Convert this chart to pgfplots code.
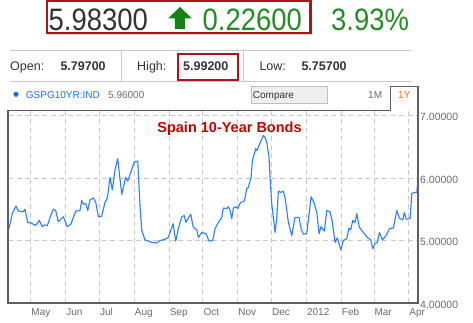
\documentclass[border=0pt]{standalone}
\usepackage{pgfplots}
\pgfplotsset{compat=1.18}
\usepackage{graphicx}
\usepackage{fontspec}
\setmainfont{Liberation Sans}
\usetikzlibrary{shadows}
\definecolor{lineblue}{RGB}{45,125,245}
\definecolor{gridgray}{RGB}{200,200,200}
\definecolor{framegray}{RGB}{95,95,95}
\definecolor{labgray}{RGB}{105,105,105}
\definecolor{titlered}{RGB}{192,0,0}
\definecolor{boxred}{RGB}{170,20,30}
\definecolor{txtgreen}{RGB}{35,140,35}
\definecolor{arrgreen}{RGB}{20,130,20}
\definecolor{darktxt}{RGB}{51,51,51}
\definecolor{tickblue}{RGB}{30,110,230}
\definecolor{tabor}{RGB}{255,100,30}
\begin{document}
\begin{tikzpicture}[x=1pt,y=1pt]
\path[use as bounding box] (0,0) rectangle (473,323);
% top price box
\draw[boxred, line width=2.2pt, fill=white, drop shadow={shadow xshift=1.5pt, shadow yshift=-1.8pt, opacity=0.35, fill=gray}] (46.7,322) rectangle (310.5,289.7);
\node[anchor=base west, inner sep=0pt, text=darktxt] at (48.5,292.3) {\scalebox{0.885}[1]{\fontsize{31}{31}\selectfont 5.98300}};
\fill[arrgreen] (180,316) -- (192,304.5) -- (185.2,304.5) -- (185.2,294) -- (174.8,294) -- (174.8,304.5) -- (168,304.5) -- cycle;
\node[anchor=base west, inner sep=0pt, text=txtgreen] at (202.5,292.3) {\scalebox{0.885}[1]{\fontsize{31}{31}\selectfont 0.22600}};
\node[anchor=base west, inner sep=0pt, text=txtgreen] at (331,292.3) {\scalebox{0.885}[1]{\fontsize{31}{31}\selectfont 3.93\%}};
% open high low row
\draw[gridgray, line width=0.8pt] (10,273) -- (412,273);
\draw[gridgray, line width=0.8pt] (10,242) -- (412,242);
\draw[gridgray, line width=0.8pt] (121.7,273) -- (121.7,242);
\draw[gridgray, line width=0.8pt] (243.7,273) -- (243.7,242);
\draw[boxred, line width=1.8pt, fill=white, drop shadow={shadow xshift=1.2pt, shadow yshift=-1.5pt, opacity=0.35, fill=gray}] (177.7,268.7) rectangle (237.7,243);
\node[anchor=base west, inner sep=0pt, text=darktxt] at (10,252.3) {\fontsize{12.5}{12.5}\selectfont Open:};
\node[anchor=base west, inner sep=0pt, text=darktxt] at (60.3,252.3) {\fontsize{12.5}{12.5}\selectfont\bfseries 5.79700};
\node[anchor=base west, inner sep=0pt, text=darktxt] at (137,252.3) {\fontsize{12.5}{12.5}\selectfont High:};
\node[anchor=base west, inner sep=0pt, text=darktxt] at (183,252.3) {\fontsize{12.5}{12.5}\selectfont\bfseries 5.99200};
\node[anchor=base west, inner sep=0pt, text=darktxt] at (259.3,252.3) {\fontsize{12.5}{12.5}\selectfont Low:};
\node[anchor=base west, inner sep=0pt, text=darktxt] at (301.3,252.3) {\fontsize{12.5}{12.5}\selectfont\bfseries 5.75700};
% legend row
\fill[tickblue] (16,228.7) circle (2.6);
\node[anchor=base west, inner sep=0pt, text=tickblue] at (25.7,224.7) {\fontsize{10}{10}\selectfont GSPG10YR:IND};
\node[anchor=base west, inner sep=0pt, text=labgray] at (108,224.7) {\fontsize{10}{10}\selectfont 5.96000};
\draw[draw={rgb,255:red,190;green,190;blue,190}, fill={rgb,255:red,238;green,238;blue,238}] (250.7,236.7) rectangle (326.7,219.7);
\node[anchor=base west, inner sep=0pt, text=darktxt] at (252.7,224.7) {\fontsize{10}{10}\selectfont Compare};
\node[anchor=base west, inner sep=0pt, text=labgray] at (368,224.7) {\fontsize{10}{10}\selectfont 1M};
\node[anchor=base west, inner sep=0pt, text=tabor] at (398,224.7) {\fontsize{10}{10}\selectfont 1Y};
% chart
\begin{axis}[
  at={(8pt,20pt)}, anchor=south west, scale only axis,
  width=410pt, height=192.3pt,
  xmin=-20.2, xmax=344.2, ymin=4, ymax=7.077,
  axis line style={draw=none},
  major tick length=0pt,
  xtick={0,31,61,92,123,153,184,214,245,276,305,336},
  xticklabels={May,Jun,Jul,Aug,Sep,Oct,Nov,Dec,2012,Feb,Mar,Apr},
  xticklabel style={anchor=north west, inner sep=0pt, yshift=-5.5pt, xshift=0.5pt, font=\fontsize{10}{10}\selectfont, text=labgray},
  ytick={4,5,6,7},
  yticklabels={4.00000,5.00000,6.00000,7.00000},
  yticklabel pos=right,
  yticklabel style={anchor=west, inner sep=0pt, xshift=2pt, yshift=-1.5pt, font=\fontsize{10.5}{10.5}\selectfont, text=labgray},
  xmajorgrids, ymajorgrids,
  major grid style={gridgray, line width=0.8pt, dash pattern=on 5pt off 3.5pt},
]
\addplot[lineblue, line width=1.1pt, line join=round] coordinates {
(-19.3,5.19) (-16.4,5.43) (-13.1,5.55) (-11.0,5.47) (-6.6,5.46) (-5.1,5.50) (-2.7,5.29) (0.3,5.28) (4.4,5.24) (7.6,5.32) (10.3,5.22) (12.1,5.25) (14.8,5.24) (17.8,5.40) (20.1,5.50) (22.2,5.48) (24.5,5.30) (29.0,5.38) (32.5,5.22) (35.6,5.26) (40.0,5.47) (43.8,5.48) (45.3,5.64) (46.8,5.58) (48.9,5.59) (50.7,5.48) (52.7,5.65) (55.6,5.68) (57.8,5.61) (60.1,5.38) (63.1,5.39) (66.0,5.61) (68.1,5.68) (70.5,6.01) (72.5,5.81) (74.9,6.13) (77.3,6.31) (80.9,5.74) (84.4,6.01) (86.2,5.95) (92.1,6.26) (95.1,6.27) (97.2,5.53) (98.7,5.16) (101.6,5.01) (107.6,4.97) (112.0,4.96) (114.9,5.00) (119.4,5.02) (122.3,5.05) (126.5,5.27) (128.9,4.99) (131.2,5.19) (134.2,5.38) (136.5,5.40) (137.8,5.29) (142.2,5.42) (144.5,5.21) (147.6,5.17) (149.0,5.05) (152.0,5.13) (155.8,5.11) (158.5,4.99) (161.8,5.00) (163.8,5.19) (166.8,5.29) (169.8,5.37) (171.2,5.52) (174.2,5.51) (175.6,5.54) (177.2,5.48) (178.7,5.35) (180.1,5.52) (182.2,5.54) (184.0,5.51) (186.0,5.59) (187.6,5.62) (189.9,5.63) (192.0,5.83) (193.4,5.85) (195.8,6.01) (197.0,6.28) (198.8,6.39) (200.0,6.47) (201.2,6.44) (202.9,6.52) (204.7,6.60) (206.8,6.68) (208.3,6.65) (209.8,6.57) (211.8,6.33) (212.7,6.01) (214.2,5.59) (215.6,5.37) (217.2,5.13) (218.7,5.37) (220.1,5.79) (222.2,5.77) (224.5,5.79) (226.0,5.69) (229.0,5.29) (232.0,5.08) (234.9,5.37) (238.5,5.37) (240.3,5.19) (242.3,5.10) (245.3,5.11) (249.2,5.70) (252.1,5.59) (254.2,5.45) (256.3,5.11) (258.0,5.22) (261.0,5.15) (263.1,5.48) (266.0,5.46) (268.1,5.29) (270.5,4.97) (272.5,5.04) (275.6,4.85) (277.9,5.00) (280.9,5.03) (282.9,5.20) (284.4,5.17) (286.2,5.32) (288.3,5.29) (289.8,5.43) (292.1,5.21) (295.6,5.13) (299.2,5.05) (302.2,5.01) (304.0,4.87) (306.0,4.95) (308.1,4.97) (309.9,5.13) (312.5,5.01) (315.8,5.08) (318.8,5.19) (322.3,5.20) (325.3,5.48) (327.6,5.36) (330.7,5.33) (332.1,5.45) (333.6,5.34) (337.2,5.35) (338.7,5.75) (340.7,5.77) (343.1,5.77) (344.2,5.97)
};
\end{axis}
% frame with tab
\draw[framegray, line width=1.2pt, line join=miter] (390.3,212.3) -- (8,212.3) -- (8,20) -- (418,20) -- (418,236.3) -- (390.3,236.3) -- (390.3,212.3);
\node[anchor=base, inner sep=0pt, text=titlered] at (229.5,190.3) {\fontsize{14.5}{14.5}\selectfont\bfseries Spain 10-Year Bonds};
\end{tikzpicture}
\end{document}
